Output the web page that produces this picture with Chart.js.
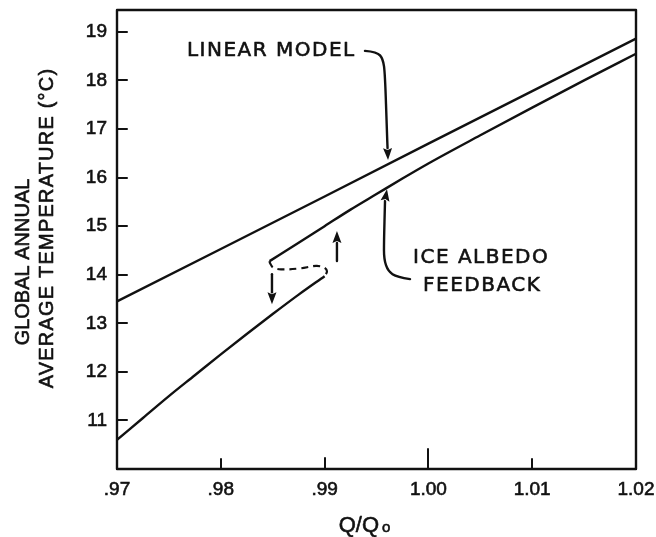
<!DOCTYPE html>
<html>
<head>
<meta charset="utf-8">
<script src="https://cdn.jsdelivr.net/npm/chart.js@4.4.1/dist/chart.umd.min.js"></script>
<style>
  html, body { margin: 0; padding: 0; background: #ffffff; }
  #c { display: block; }
</style>
</head>
<body>
<canvas id="c" width="656" height="537"></canvas>
<script>
// Axis ticks
const xTickValues = [0.97, 0.98, 0.99, 1.00, 1.01, 1.02];
const xTickLabels = ['.97', '.98', '.99', '1.00', '1.01', '1.02'];
const yTickValues = [11, 12, 13, 14, 15, 16, 17, 18, 19];
const yTickLabels = ['11', '12', '13', '14', '15', '16', '17', '18', '19'];

// Linear model: temperature vs. solar constant ratio Q/Qo
const linearQ = [0.97, 0.98, 0.99, 1.00, 1.01, 1.02];
const linearT = [13.45, 14.53, 15.61, 16.70, 17.78, 18.86];

// Ice-albedo feedback, warm (upper) branch
const warmQ = [0.9847, 0.9875, 0.99, 0.9925, 0.995, 0.9975, 1.00, 1.005, 1.01, 1.015, 1.02];
const warmT = [14.28, 14.66, 15.00, 15.34, 15.66, 15.98, 16.29, 16.87, 17.44, 18.00, 18.55];

// Ice-albedo feedback, cold (lower) branch
const coldQ = [0.97, 0.9725, 0.975, 0.9775, 0.98, 0.9825, 0.985, 0.9875, 0.99];
const coldT = [10.60, 11.05, 11.50, 11.93, 12.36, 12.78, 13.19, 13.59, 13.97];

// Unstable branch joining the two folds (dashed)
const unstableQ = [0.9847, 0.98474, 0.98503, 0.9858, 0.98763, 0.98917, 0.98994, 0.99023, 0.99];
const unstableT = [14.28, 14.24, 14.15, 14.11, 14.13, 14.18, 14.15, 14.07, 13.97];

// Callout labels and their leader arrows, in data units (Q/Qo, degrees C)
const linearLabel = { text: 'LINEAR MODEL', q: 0.97674, t: 18.505 };
const linearArrowQ = [0.99389, 0.99505, 0.99563, 0.99582, 0.99601, 0.99611];
const linearArrowT = [18.608, 18.588, 18.443, 18.134, 16.897, 16.36];

const iceLabel1 = { text: 'ICE ALBEDO', q: 0.99852, t: 14.237 };
const iceLabel2 = { text: 'FEEDBACK', q: 0.99948, t: 13.66 };
const iceArrowQ = [0.99823, 0.99698, 0.99611, 0.99572, 0.99572, 0.99582, 0.99601];
const iceArrowT = [13.91, 13.95, 14.07, 14.32, 14.69, 15.515, 15.76];

// Transition arrows at the hysteresis loop
const dropArrowQ = [0.98493, 0.98493];
const dropArrowT = [14.01, 13.39];
const riseArrowQ = [0.99119, 0.99119];
const riseArrowT = [14.28, 14.90];

const xTickLength = [0, 10, 11, 20, 10, 0];
const INK = '#111111';
const LW = 2.4;

const pts = (qs, ts) => qs.map((q, i) => ({ x: q, y: ts[i] }));

function strokePath(ctx, p) {
  ctx.beginPath();
  ctx.moveTo(p[0][0], p[0][1]);
  if (p.length === 2) {
    ctx.lineTo(p[1][0], p[1][1]);
  } else {
    for (let i = 1; i < p.length - 1; i++) {
      const mx = (p[i][0] + p[i + 1][0]) / 2, my = (p[i][1] + p[i + 1][1]) / 2;
      ctx.quadraticCurveTo(p[i][0], p[i][1], mx, my);
    }
    ctx.lineTo(p[p.length - 1][0], p[p.length - 1][1]);
  }
  ctx.stroke();
}

function arrow(ctx, p, headLen, headHalf) {
  const n = p.length;
  const tip = p[n - 1], prev = p[n - 2];
  const dx = tip[0] - prev[0], dy = tip[1] - prev[1];
  const L = Math.hypot(dx, dy) || 1;
  const ux = dx / L, uy = dy / L;
  const base = [tip[0] - ux * headLen, tip[1] - uy * headLen];
  const shaft = p.slice(0, n - 1).concat([base]);
  strokePath(ctx, shaft);
  ctx.beginPath();
  ctx.moveTo(tip[0], tip[1]);
  ctx.lineTo(base[0] - uy * headHalf, base[1] + ux * headHalf);
  ctx.lineTo(base[0] + ux * 2, base[1] + uy * 2);
  ctx.lineTo(base[0] + uy * headHalf, base[1] - ux * headHalf);
  ctx.closePath();
  ctx.fill();
}

// Filled text with a hairline outline so it reads as heavy as the rules
function inkText(ctx, s, x, y) {
  ctx.fillText(s, x, y);
  ctx.lineWidth = 0.6;
  ctx.strokeText(s, x, y);
}

const decor = {
  id: 'decor',
  afterDraw(chart) {
    const { ctx, chartArea: a } = chart;
    const xs = chart.scales.x, ys = chart.scales.y;
    const px = q => xs.getPixelForValue(q);
    const py = t => ys.getPixelForValue(t);
    ctx.save();
    ctx.strokeStyle = INK;
    ctx.fillStyle = INK;
    ctx.lineWidth = LW;
    ctx.lineCap = 'round';
    ctx.lineJoin = 'round';

    // Frame
    ctx.strokeRect(a.left, a.top, a.right - a.left, a.bottom - a.top);

    // Inward tick marks
    ctx.lineWidth = 2;
    xTickValues.forEach((v, i) => {
      if (!xTickLength[i]) return;
      const X = Math.round(px(v));
      ctx.beginPath(); ctx.moveTo(X, a.bottom); ctx.lineTo(X, a.bottom - xTickLength[i]); ctx.stroke();
    });
    yTickValues.forEach(v => {
      const Y = Math.round(py(v));
      ctx.beginPath(); ctx.moveTo(a.left, Y); ctx.lineTo(a.left + 10, Y); ctx.stroke();
    });

    // Leader arrows
    ctx.lineWidth = LW;
    const map = (qs, ts) => qs.map((q, i) => [px(q), py(ts[i])]);
    arrow(ctx, map(linearArrowQ, linearArrowT), 12, 4.5);
    arrow(ctx, map(iceArrowQ, iceArrowT), 12, 4.5);
    arrow(ctx, map(dropArrowQ, dropArrowT), 12, 4.5);
    arrow(ctx, map(riseArrowQ, riseArrowT), 12, 4.5);

    // Callout text
    ctx.font = '20px "DejaVu Sans"';
    ctx.letterSpacing = '1.5px';
    ctx.textAlign = 'left';
    ctx.textBaseline = 'alphabetic';
    [linearLabel, iceLabel1, iceLabel2].forEach(l => inkText(ctx, l.text, px(l.q), py(l.t)));
    ctx.letterSpacing = '0px';

    // Y axis title (two lines)
    ctx.font = '20px "Liberation Sans"';
    ctx.textAlign = 'center';
    ctx.textBaseline = 'middle';
    ctx.save();
    ctx.translate(23, 262); ctx.rotate(-Math.PI / 2);
    inkText(ctx, 'GLOBAL ANNUAL', 0, 0);
    ctx.restore();
    ctx.save();
    ctx.translate(47, 228); ctx.rotate(-Math.PI / 2);
    ctx.letterSpacing = '1.2px';
    inkText(ctx, 'AVERAGE TEMPERATURE (°C)', 0, 0);
    ctx.letterSpacing = '0px';
    ctx.restore();

    // X axis title Q/Qo
    ctx.textAlign = 'left';
    ctx.textBaseline = 'alphabetic';
    ctx.font = '22px "Liberation Sans"';
    const main = 'Q/Q';
    const wMain = ctx.measureText(main).width;
    ctx.font = '15px "Liberation Sans"';
    const wSub = ctx.measureText('o').width;
    const left = (a.left + a.right) / 2 - 12 - (wMain + 3 + wSub) / 2;
    ctx.font = '22px "Liberation Sans"';
    inkText(ctx, main, left, 532);
    ctx.font = '15px "Liberation Sans"';
    inkText(ctx, 'o', left + wMain + 3, 532);

    ctx.restore();
  }
};

const lineStyle = {
  showLine: true, fill: false, borderColor: INK, borderWidth: LW,
  pointRadius: 0, pointHoverRadius: 0, tension: 0
};

const tickFont = { family: 'Liberation Sans', size: 19 };

new Chart(document.getElementById('c'), {
  type: 'scatter',
  data: {
    datasets: [
      Object.assign({ label: 'Linear model', data: pts(linearQ, linearT) }, lineStyle),
      Object.assign({ label: 'Ice albedo feedback (warm)', data: pts(warmQ, warmT) }, lineStyle,
        { cubicInterpolationMode: 'monotone' }),
      Object.assign({ label: 'Ice albedo feedback (cold)', data: pts(coldQ, coldT) }, lineStyle,
        { cubicInterpolationMode: 'monotone' }),
      Object.assign({ label: 'Unstable', data: pts(unstableQ, unstableT) }, lineStyle,
        { borderDash: [7, 5], tension: 0.35, borderWidth: 2.2 })
    ]
  },
  options: {
    responsive: false,
    animation: false,
    devicePixelRatio: 1,
    layout: { padding: { left: 0, top: 10, right: 20, bottom: 0 } },
    plugins: { legend: { display: false }, tooltip: { enabled: false } },
    scales: {
      x: {
        type: 'linear', min: 0.97, max: 1.02,
        grid: { display: false, drawTicks: false },
        border: { display: false },
        afterBuildTicks: s => { s.ticks = xTickValues.map(v => ({ value: v })); },
        afterFit: s => { s.height = 68; s.paddingLeft = 0; s.paddingRight = 0; },
        ticks: {
          autoSkip: false, maxRotation: 0, minRotation: 0, padding: 9,
          color: INK, font: tickFont, textStrokeColor: INK, textStrokeWidth: 0.6,
          callback: (v, i) => xTickLabels[i]
        }
      },
      y: {
        type: 'linear', min: 10, max: 19.45,
        grid: { display: false, drawTicks: false },
        border: { display: false },
        afterBuildTicks: s => { s.ticks = yTickValues.map(v => ({ value: v })); },
        afterFit: s => { s.width = 117; s.paddingTop = 0; s.paddingBottom = 0; },
        ticks: {
          autoSkip: false, padding: 10,
          color: INK, font: tickFont, textStrokeColor: INK, textStrokeWidth: 0.6,
          callback: (v, i) => yTickLabels[i]
        }
      }
    }
  },
  plugins: [decor]
});
</script>
</body>
</html>
